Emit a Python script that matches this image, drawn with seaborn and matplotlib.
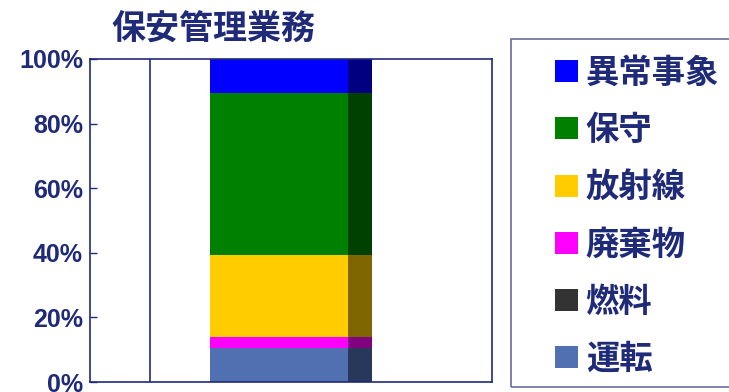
import matplotlib
matplotlib.use("Agg")
import matplotlib.pyplot as plt
from matplotlib.patches import Patch, Rectangle
import numpy as np
import pandas as pd
import seaborn as sns

# ---- data (bottom to top of the stack) ----
categories = ["運転", "燃料", "廃棄物", "放射線", "保守", "異常事象"]
shares = [10.5, 0.0, 3.3, 25.4, 50.2, 10.6]
front_colors = ["#5070B2", "#333333", "#FF00FF", "#FFCC00", "#008000", "#0000FF"]
side_colors = ["#28385A", "#1A1A1A", "#800080", "#806600", "#004000", "#000080"]
title = "保安管理業務"
yticks = [0, 20, 40, 60, 80, 100]
ytick_labels = ["0%", "20%", "40%", "60%", "80%", "100%"]

navy = "#1F2A78"

sns.set_theme(style="white")
plt.rcParams["font.family"] = ["Liberation Sans", "Noto Sans CJK JP", "DejaVu Sans"]

fig = plt.figure(figsize=(7.29, 3.92), dpi=100)
ax = fig.add_axes([90 / 729, 10 / 392, 402 / 729, 323 / 392])

df = pd.DataFrame({"cat": categories, "share": shares})
df["cum"] = df["share"].cumsum()

# draw from top of stack down so lower segments overlay
for i in range(len(df) - 1, -1, -1):
    row = df.iloc[i]
    # dark side (full bar width)
    sns.barplot(x=[0.0], y=[row["cum"]], native_scale=True, width=0.403,
                color=side_colors[i], saturation=1, linewidth=0, ax=ax)
for i in range(len(df) - 1, -1, -1):
    row = df.iloc[i]
    # bright front face
    sns.barplot(x=[-0.03], y=[row["cum"]], native_scale=True, width=0.343,
                color=front_colors[i], saturation=1, linewidth=0, ax=ax)

ax.set_xlim(-0.5, 0.5)
ax.set_ylim(0, 100)
ax.axvline(-0.35, color=navy, linewidth=1.2)
ax.set_xticks([])
ax.set_yticks(yticks)
ax.set_yticklabels(ytick_labels, fontsize=18, fontweight="bold", color=navy)
ax.tick_params(axis="y", direction="in", length=5, width=1, color=navy, pad=5, left=True)
ax.set_xlabel("")
ax.set_ylabel("")
for s in ax.spines.values():
    s.set_visible(True)
    s.set_color(navy)
    s.set_linewidth(1.2)

fig.text(111 / 729, 1 - 30 / 392, title, fontsize=24.5, fontweight="bold",
         color=navy, ha="left", va="center")

# legend box (clipped by right edge of figure)
fig.patches.append(Rectangle((511 / 729, 1 - 387 / 392), 0.4, 348 / 392,
                             transform=fig.transFigure, fill=False,
                             edgecolor="#6670A0", linewidth=1.2))
handles = [Patch(facecolor=front_colors[i], edgecolor="none", label=categories[i])
           for i in range(len(categories) - 1, -1, -1)]
leg = fig.legend(handles=handles, loc="upper left",
                 bbox_to_anchor=(555 / 729, 1 - 58 / 392), frameon=False,
                 prop={"size": 24, "weight": "bold"}, labelspacing=0.77,
                 handlelength=0.7, handleheight=0.64, handletextpad=0.22,
                 borderpad=0, borderaxespad=0)
for t in leg.get_texts():
    t.set_color(navy)

fig.savefig("out.png", dpi=100)
